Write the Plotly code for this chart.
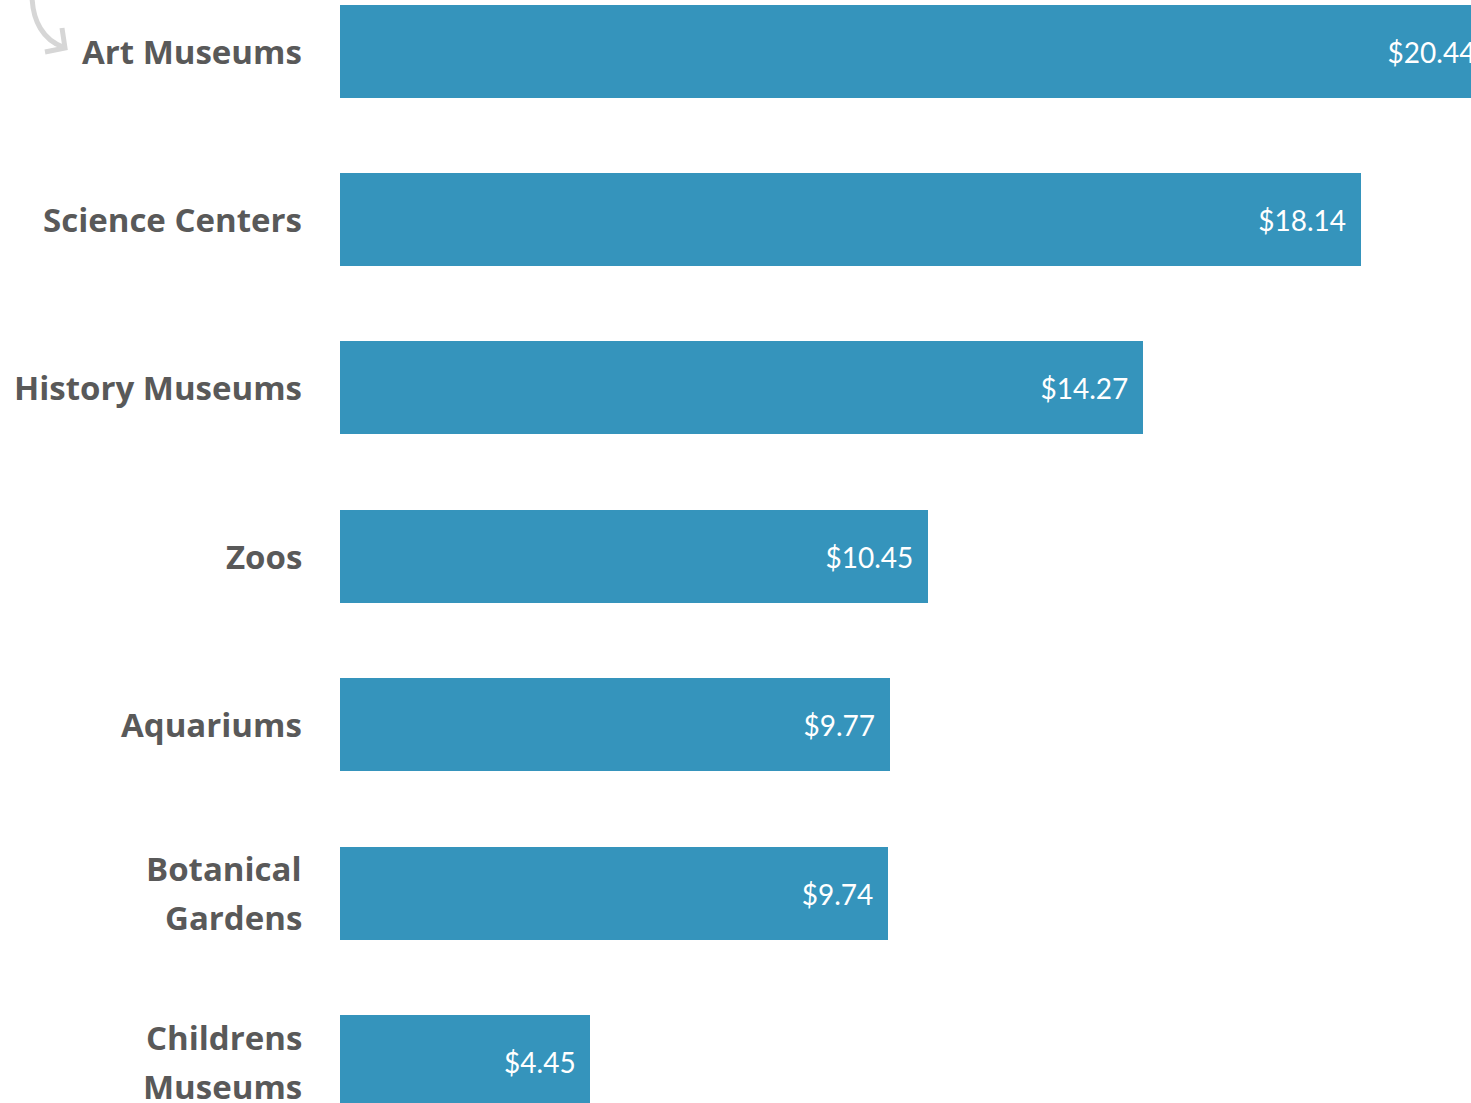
import plotly.graph_objects as go

# Average admission price by institution type
categories = ["Art Museums", "Science Centers", "History Museums", "Zoos",
              "Aquariums", "Botanical Gardens", "Childrens Museums"]
label_lines = [["Art Museums"], ["Science Centers"], ["History Museums"], ["Zoos"],
               ["Aquariums"], ["Botanical", "Gardens"], ["Childrens", "Museums"]]
prices = [20.44, 18.14, 14.27, 10.45, 9.77, 9.74, 4.45]
price_labels = ["$%.2f" % p for p in prices]

W, H = 1471, 1103
LEFT = 340
ROW_PX = 168.4
BAR_COLOR = "#3594BC"
LABEL_COLOR = "#595959"
Y_RANGE = [6.246, -0.303]
TEXT_DROP = 4.5 / ROW_PX  # nudges the value labels onto the bar centre line

fig = go.Figure()

fig.add_trace(go.Bar(
    y=categories, x=prices, orientation="h",
    marker=dict(color=BAR_COLOR, line=dict(width=0)),
    width=0.552, hoverinfo="skip", showlegend=False,
))

# value labels, placed just inside the end of each bar
fig.add_trace(go.Scatter(
    y=categories, x=prices, mode="markers+text", yaxis="y2",
    text=price_labels, textposition="middle left",
    marker=dict(size=22, opacity=0),
    textfont=dict(family="Lato", size=28, color="white"),
    cliponaxis=True, hoverinfo="skip", showlegend=False,
))

# category labels, each line centred and the block right-aligned to the bars
annotations = []
LINE_GAP = 49
for cat, lines in zip(categories, label_lines):
    n = len(lines)
    for i, line in enumerate(lines):
        offset = ((n - 1) / 2 - i) * LINE_GAP
        annotations.append(dict(
            x=0, xref="paper", xanchor="right", xshift=-36,
            y=cat, yref="y", yanchor="middle", yshift=offset,
            text=line, showarrow=False, align="center",
            font=dict(family="Open Sans", size=33, color=LABEL_COLOR, weight="bold"),
        ))

plot_w = W - LEFT


def px(x):
    return (x - LEFT) / plot_w


def py(y):
    return 1 - y / H


# curved pointer toward the top row
shapes = [
    dict(type="path", xref="paper", yref="paper",
         path="M %f,%f C %f,%f %f,%f %f,%f" % (px(32), py(-6), px(32), py(22),
                                             px(44), py(40), px(63), py(47)),
         line=dict(color="#D6D6D6", width=5)),
    dict(type="path", xref="paper", yref="paper",
         path="M %f,%f L %f,%f L %f,%f" % (px(62), py(28), px(65), py(48), px(45), py(52)),
         line=dict(color="#D6D6D6", width=5)),
]

hidden_y = dict(categoryorder="array", categoryarray=categories,
                showticklabels=False, showgrid=False, zeroline=False,
                showline=False, ticks="", fixedrange=True)

fig.update_layout(
    width=W, height=H,
    margin=dict(l=LEFT, r=0, t=0, b=0),
    paper_bgcolor="white", plot_bgcolor="white",
    xaxis=dict(range=[0, plot_w / 56.27], visible=False, fixedrange=True),
    yaxis=dict(range=Y_RANGE, **hidden_y),
    yaxis2=dict(range=[Y_RANGE[0] - TEXT_DROP, Y_RANGE[1] - TEXT_DROP],
                overlaying="y", **hidden_y),
    annotations=annotations,
    shapes=shapes,
    bargap=0,
)

fig.write_html("out.html")
